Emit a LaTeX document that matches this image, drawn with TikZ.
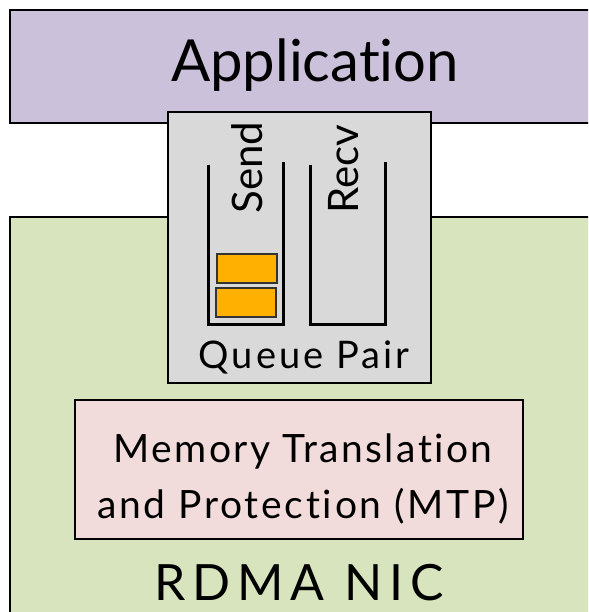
\documentclass[tikz,border=0pt]{standalone}
\usepackage{fontspec}
\setmainfont[Ligatures=NoCommon]{Lato}
\usepackage{xcolor}
\definecolor{appfill}{HTML}{CCC1DA}
\definecolor{nicfill}{HTML}{D7E4BD}
\definecolor{qpfill}{HTML}{D9D9D9}
\definecolor{mtpfill}{HTML}{F2DCDB}
\definecolor{wqefill}{HTML}{FFB000}

\begin{document}
\begin{tikzpicture}[x=1pt,y=-1pt,
    layer/.style={draw=black, line width=1.3pt},
    qwall/.style={line width=3pt},
    wqe/.style={draw=black!80, line width=1.3pt, fill=wqefill}]
\useasboundingbox (0,0) rectangle (588,612);
\clip (0,0) rectangle (588,612);

% Application and NIC layers
\draw[layer, fill=appfill] (10,10) rectangle (600,123);
\node[anchor=base] (app) at (315,82) {\fontsize{58}{60}\selectfont Application};
\draw[layer, fill=nicfill] (10,217) rectangle (600,620);

% Queue pair
\draw[layer, fill=qpfill] (168,112) rectangle (431,383);
\foreach \x in {208,310} {
    \draw[qwall] (\x,165) -- (\x,324) -- (\x+75,324) -- (\x+75,162);
}
\node[rotate=90, anchor=base west] (send) at (262,217) {\fontsize{42}{44}\selectfont Send};
\node[rotate=90, anchor=base west] (recv) at (358,217) {\fontsize{42}{44}\selectfont Recv};

% Work requests in send queue
\draw[wqe] (217,254) rectangle (277,283);
\draw[wqe] (216,288) rectangle (276,317);
\node[anchor=base] (qp) at (304,368) {\fontsize{38}{40}\selectfont\addfontfeatures{LetterSpace=8}Queue Pair};

% MTP
\draw[layer, fill=mtpfill] (75,400) rectangle (523,539);
\node[anchor=base] (mtpa) at (303,462) {\fontsize{39}{40}\selectfont\addfontfeatures{LetterSpace=6}Memory Translation};
\node[anchor=base] (mtpb) at (303,518) {\fontsize{39}{40}\selectfont\addfontfeatures{LetterSpace=7}and Protection (MTP)};

\node[anchor=base] (nic) at (299,600) {\fontsize{50}{52}\selectfont\addfontfeatures{LetterSpace=14}RDMA NIC};
\end{tikzpicture}
\end{document}
